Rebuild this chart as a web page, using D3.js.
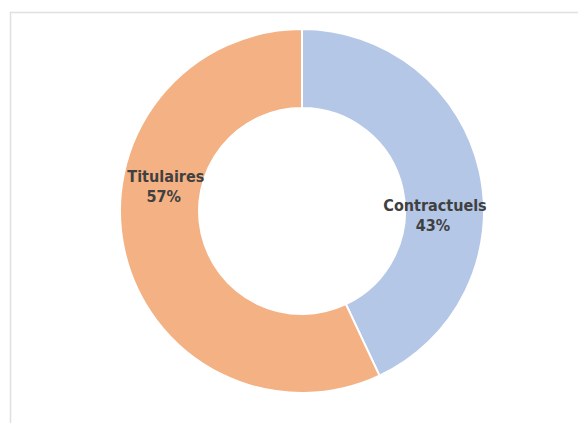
<!DOCTYPE html>
<html>
<head>
<meta charset="utf-8">
<script src="https://cdn.jsdelivr.net/npm/d3@7"></script>
<style>
  body { margin: 0; background: #fff; }
  svg { display: block; }
</style>
</head>
<body>
<div id="chart"></div>
<script>
// data
const categories = ["Contractuels", "Titulaires"];
const values = [43, 57];
const labels = ["43%", "57%"];
const colors = ["#B4C7E7", "#F4B183"];

const width = 578, height = 423;
const cx = 302, cy = 211;
const outerRadius = 182, innerRadius = 103;

const svg = d3.select("#chart").append("svg")
    .attr("width", width)
    .attr("height", height);

// chart area frame, runs off the right and bottom edges
svg.append("rect")
    .attr("x", 10.5).attr("y", 12.5)
    .attr("width", 700).attr("height", 600)
    .attr("fill", "none")
    .attr("stroke", "#e0e0e0")
    .attr("stroke-width", 1.5);

const data = categories.map((c, i) => ({ name: c, value: values[i], label: labels[i], color: colors[i] }));

const pie = d3.pie().value(d => d.value).sort(null);
const arc = d3.arc().innerRadius(innerRadius).outerRadius(outerRadius);

const g = svg.append("g").attr("transform", `translate(${cx},${cy})`);

g.selectAll("path")
    .data(pie(data))
    .enter()
    .append("path")
    .attr("d", arc)
    .attr("fill", d => d.data.color)
    .attr("stroke", "#fff")
    .attr("stroke-width", 2);

// Excel put the labels near the horizontal, not on the slice centroid
const labelAngle = { "Contractuels": 90.5 * Math.PI / 180, "Titulaires": 281.5 * Math.PI / 180 };
const labelRadius = { "Contractuels": 133, "Titulaires": 139 };

const lab = g.selectAll("text.lab")
    .data(pie(data))
    .enter()
    .append("text")
    .attr("class", "lab")
    .attr("transform", d => {
      const a = labelAngle[d.data.name], r = labelRadius[d.data.name];
      return "translate(" + (r * Math.sin(a)) + "," + (-r * Math.cos(a)) + ")";
    })
    .style("text-anchor", "middle")
    .style("font-family", "'Liberation Sans Narrow', 'DejaVu Sans Condensed', Roboto, sans-serif")
    .style("font-weight", "bold")
    .style("font-size", "16px")
    .attr("fill", "#404040");

lab.append("tspan").attr("x", 0).attr("dy", "-0.1em").text(d => d.data.name);
lab.append("tspan").attr("x", -2).attr("dy", "1.3em").text(d => d.data.label);
</script>
</body>
</html>
